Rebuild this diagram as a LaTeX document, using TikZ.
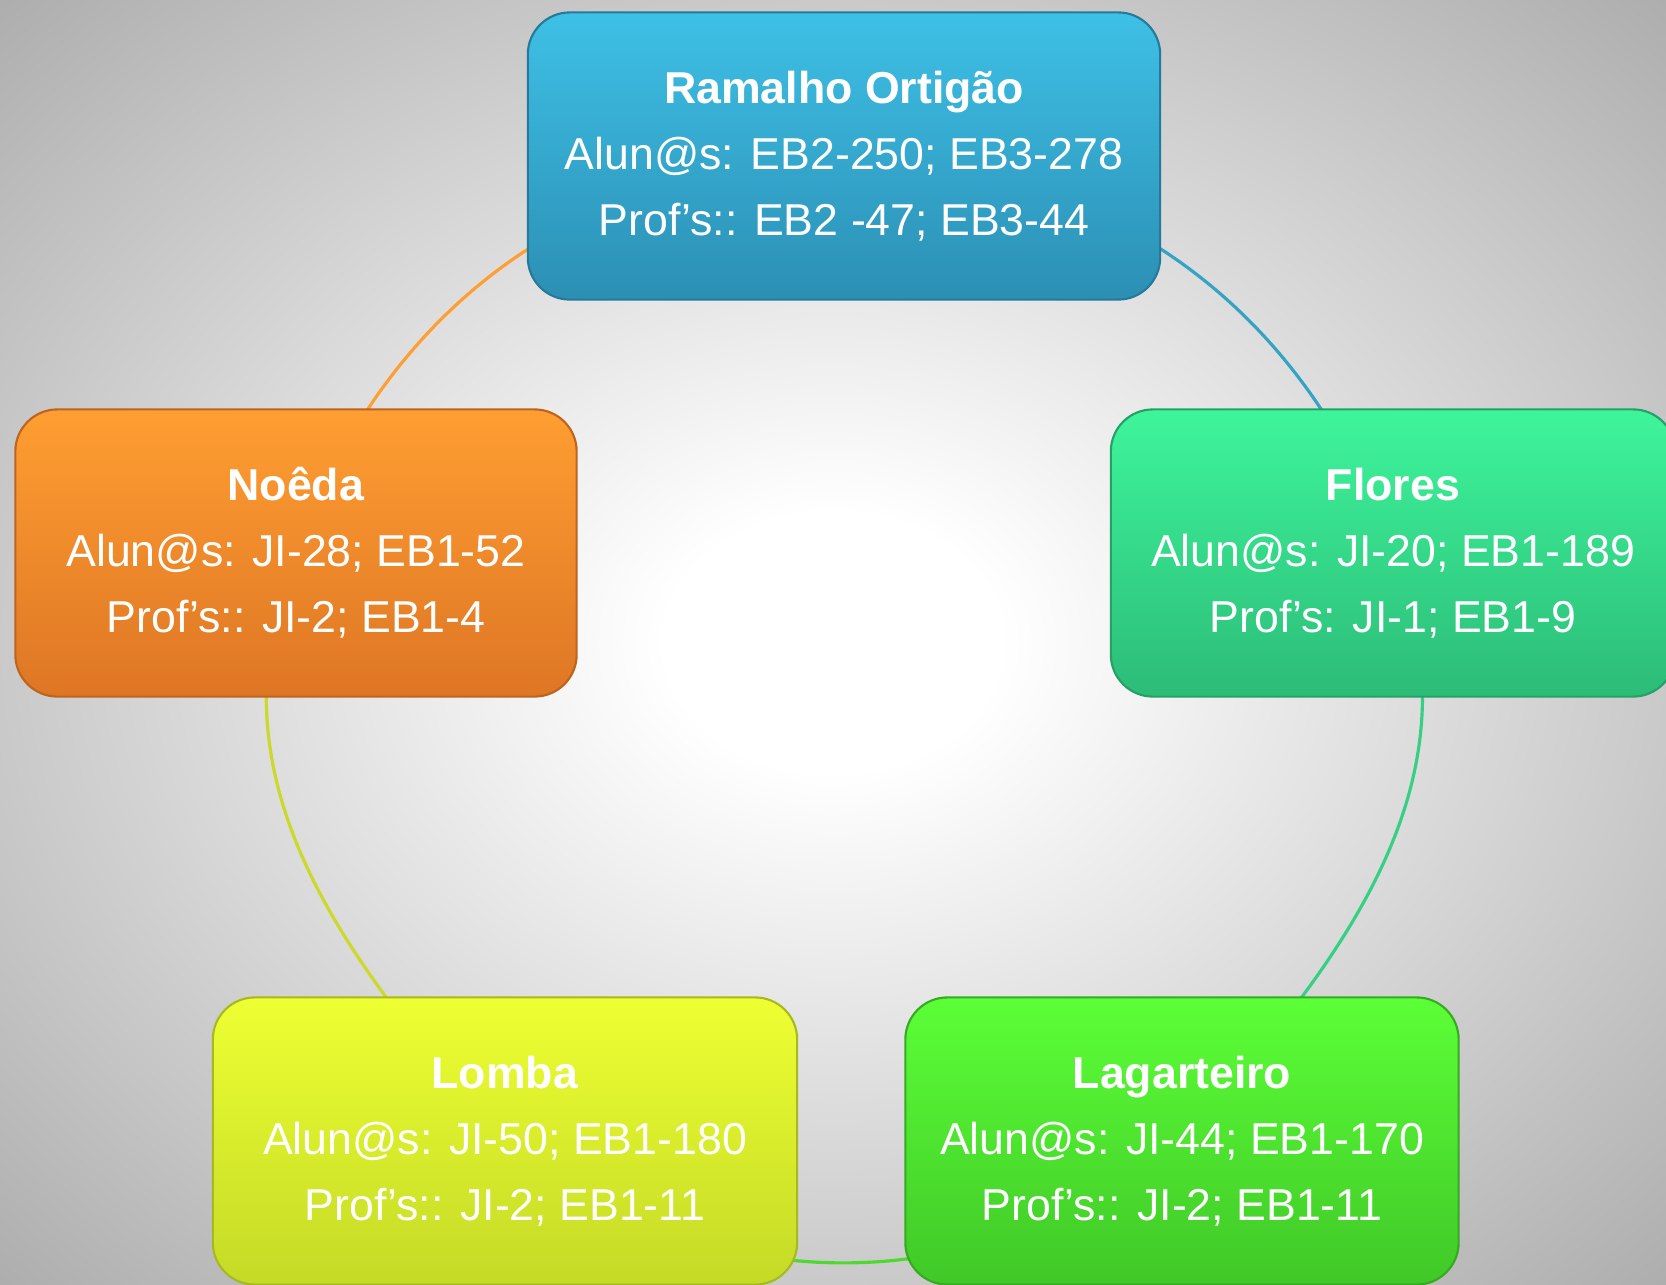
\documentclass[tikz,border=0pt]{standalone}
\usepackage{fontspec}
\setmainfont{Liberation Sans}
\usetikzlibrary{backgrounds}

\definecolor{bgmid}{RGB}{172,172,172}
\definecolor{bggray}{RGB}{150,150,150}
\definecolor{ramtop}{RGB}{62,192,230}
\definecolor{rambot}{RGB}{44,143,180}
\definecolor{flotop}{RGB}{62,245,155}
\definecolor{flobot}{RGB}{44,188,120}
\definecolor{lagtop}{RGB}{92,255,55}
\definecolor{lagbot}{RGB}{64,200,40}
\definecolor{lomtop}{RGB}{238,255,50}
\definecolor{lombot}{RGB}{196,218,38}
\definecolor{noetop}{RGB}{255,158,50}
\definecolor{noebot}{RGB}{222,118,36}

\pgfdeclareradialshading{bgshade}{\pgfpointorigin}{color(0bp)=(white); color(5bp)=(white); color(36bp)=(bgmid); color(50bp)=(bggray)}

\tikzset{
  school/.style={rectangle, rounded corners=0.42cm, minimum height=2.87cm, inner sep=0pt,
    align=center, text=white, line width=0.6pt, font=\fontsize{12.7}{18.8}\selectfont},
  ring/.style={line width=0.9pt},
}

\begin{document}
\begin{tikzpicture}[x=0.01cm,y=-0.01cm]
  \useasboundingbox (0,0) rectangle (1666,1285);
  % the five schools
  \node[school, minimum width=6.32cm, top color=ramtop, bottom color=rambot, draw=rambot!85!black] (ram) at (844,156)
    {\textbf{Ramalho Ortigão}\\Alun@s: EB2-250; EB3-278\\Prof’s:: EB2 -47; EB3-44};
  \node[school, minimum width=5.64cm, top color=flotop, bottom color=flobot, draw=flobot!85!black] (flo) at (1393,553)
    {\textbf{Flores}\\Alun@s: JI-20; EB1-189\\Prof’s: JI-1; EB1-9};
  \node[school, minimum width=5.53cm, top color=lagtop, bottom color=lagbot, draw=lagbot!85!black] (lag) at (1182,1141)
    {\textbf{Lagarteiro}\\Alun@s: JI-44; EB1-170\\Prof’s:: JI-2; EB1-11};
  \node[school, minimum width=5.84cm, top color=lomtop, bottom color=lombot, draw=lombot!85!black] (lom) at (505,1141)
    {\textbf{Lomba}\\Alun@s: JI-50; EB1-180\\Prof’s:: JI-2; EB1-11};
  \node[school, minimum width=5.61cm, top color=noetop, bottom color=noebot, draw=noebot!85!black] (noe) at (296,553)
    {\textbf{Noêda}\\Alun@s: JI-28; EB1-52\\Prof’s:: JI-2; EB1-4};
  % backdrop and the ring behind the boxes
  \begin{pgfonlayer}{background}
    \shade[shading=bgshade] (0,0) rectangle (1666,1285);
    \draw[ring, color=ramtop!85!black] (ram.center) to[bend left=34] (flo.center);
    \draw[ring, color=flotop!85!black] (flo.center) to[out=42, in=158, relative] (lag.center);
    \draw[ring, color=lagtop!85!black] (lag.center) to[bend left=38] (lom.center);
    \draw[ring, color=lomtop!85!black] (lom.center) to[out=22, in=138, relative] (noe.center);
    \draw[ring, color=noetop] (noe.center) to[bend left=34] (ram.center);
  \end{pgfonlayer}
\end{tikzpicture}
\end{document}
